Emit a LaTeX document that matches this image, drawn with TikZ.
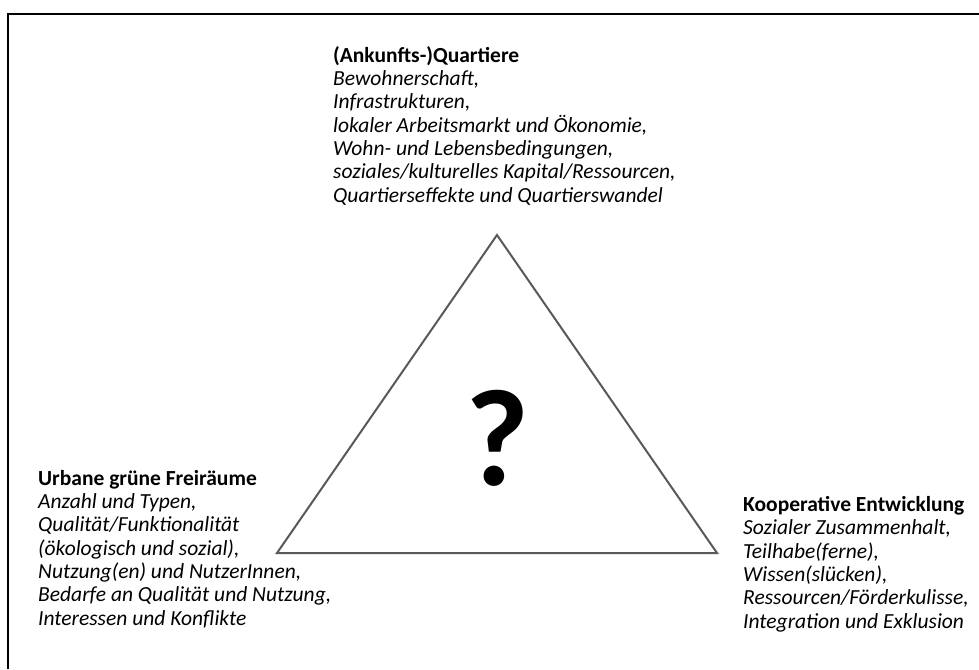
\documentclass[tikz,border=0pt]{standalone}
\usepackage{fontspec}
\setmainfont{Carlito}
\begin{document}
\begin{tikzpicture}[x=1pt,y=-1pt,
  blk/.style={inner sep=0pt, anchor=base west, align=left, font=\fontsize{21.5}{23.3}\selectfont},
  tri/.style={draw=black!65, line width=2pt, line join=miter},
  frame/.style={draw=black, line width=2.5pt}]
\useasboundingbox (0,0) rectangle (979,669);
\coordinate (fa) at (8,669);
\coordinate (fb) at (8,14);
\coordinate (fc) at (979,14);
\draw[frame] (fa) -- (fb) -- (fc);
\coordinate (A) at (497,235);
\coordinate (B) at (277,553);
\coordinate (C) at (717,553);
\draw[tri] (A) -- (B) -- (C) -- cycle;
\node[inner sep=0pt] (q) at (497,438) {\fontsize{138}{140}\selectfont\bfseries ?};
\node[blk] (top) at (333,202) {\textbf{(Ankunfts-)Quartiere}\\
\textit{Bewohnerschaft,}\\
\textit{Infrastrukturen,}\\
\textit{lokaler Arbeitsmarkt und Ökonomie,}\\
\textit{Wohn- und Lebensbedingungen,}\\
\textit{soziales/kulturelles Kapital/Ressourcen,}\\
\textit{Quartierseffekte und Quartierswandel}};
\node[blk] (left) at (38,625) {\textbf{Urbane grüne Freiräume}\\
\textit{Anzahl und Typen,}\\
\textit{Qualität/Funktionalität}\\
\textit{(ökologisch und sozial),}\\
\textit{Nutzung(en) und NutzerInnen,}\\
\textit{Bedarfe an Qualität und Nutzung,}\\
\textit{Interessen und Konflikte}};
\node[blk] (right) at (743,628) {\textbf{Kooperative Entwicklung}\\
\textit{Sozialer Zusammenhalt,}\\
\textit{Teilhabe(ferne),}\\
\textit{Wissen(slücken),}\\
\textit{Ressourcen/Förderkulisse,}\\
\textit{Integration und Exklusion}};
\end{tikzpicture}
\end{document}
